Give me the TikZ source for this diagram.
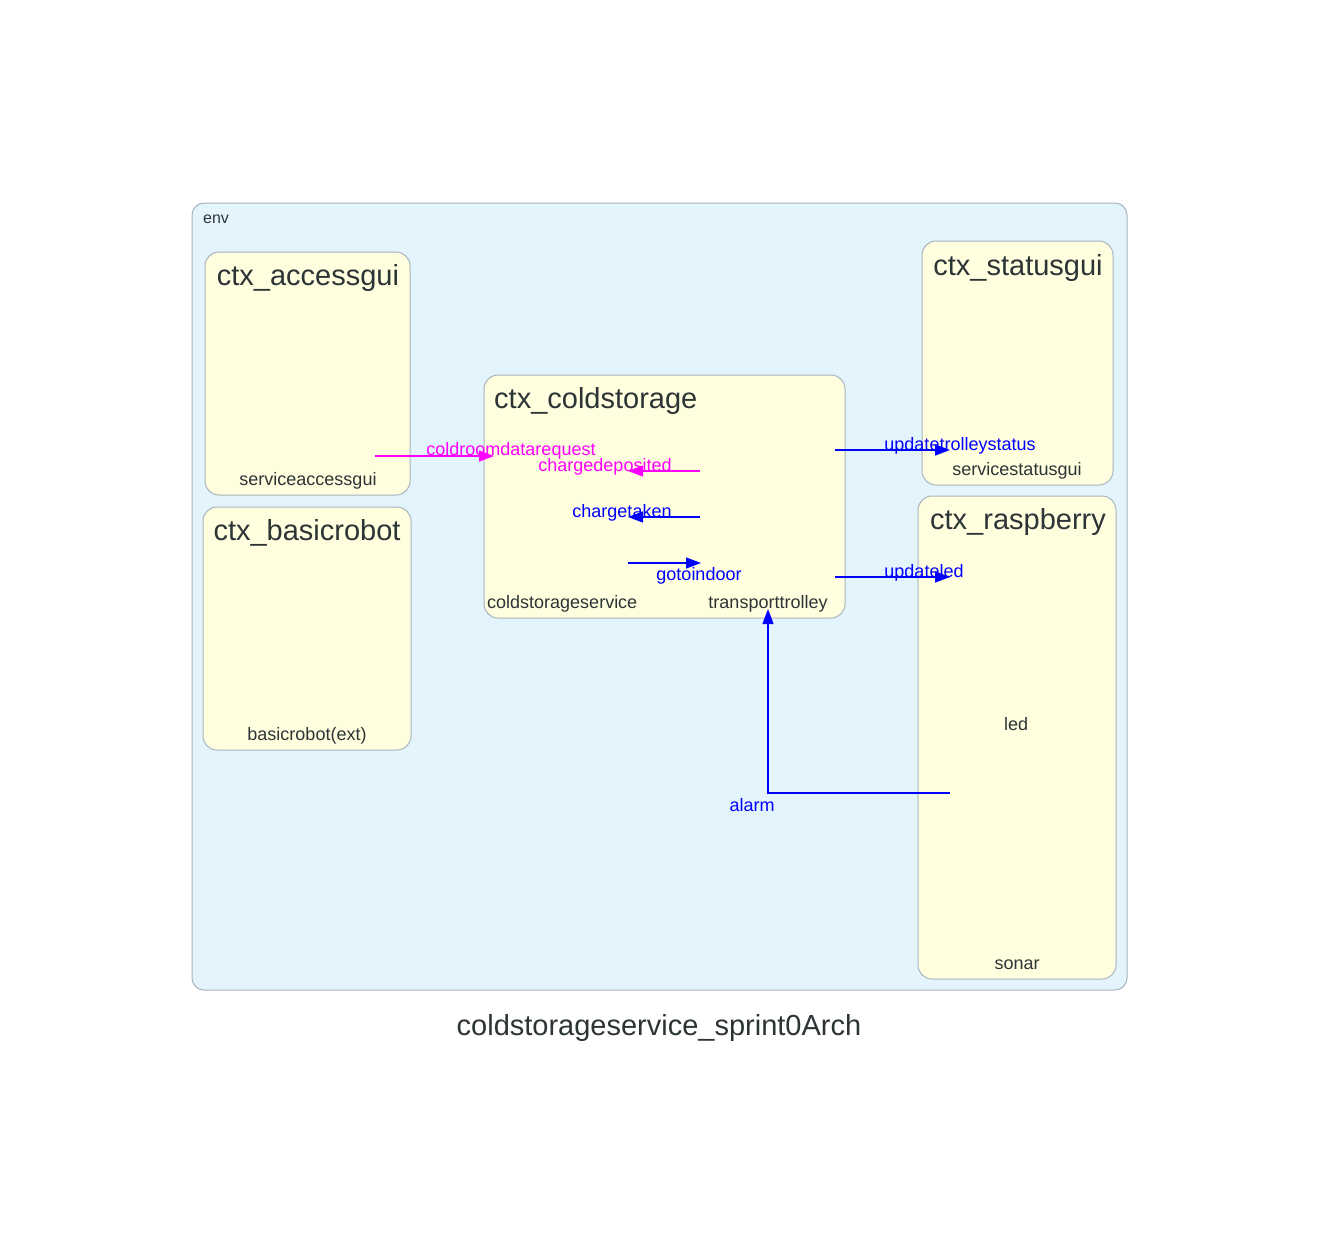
\documentclass[tikz,border=0pt]{standalone}
\usepackage{fontspec}
\setmainfont{Liberation Sans}
\usetikzlibrary{arrows.meta}
\definecolor{txt}{HTML}{2D3436}
\definecolor{envfill}{HTML}{E3F4FC}
\definecolor{ctxfill}{HTML}{FFFEDF}
\definecolor{bord}{HTML}{A9B4BD}
\definecolor{mag}{HTML}{FF00FF}
\definecolor{blu}{HTML}{0000FF}
\begin{document}
\begin{tikzpicture}[x=1pt,y=-1pt,
  envbox/.style={draw=bord, fill=envfill, rounded corners=12pt, line width=1pt},
  ctxbox/.style={draw=bord, fill=ctxfill, rounded corners=14pt, line width=1pt},
  ctxtitle/.style={text=txt, font=\fontsize{29}{32}\selectfont, inner sep=0pt, yshift=-3pt},
  actor/.style={text=txt, font=\fontsize{18}{20}\selectfont, inner sep=0pt, yshift=-2.5pt},
  envlabel/.style={text=txt, font=\fontsize{16}{18}\selectfont, inner sep=0pt, yshift=-2pt},
  msg/.style={font=\fontsize{18}{20}\selectfont, inner sep=0pt, yshift=-2.5pt},
  msgline/.style={line width=1.3pt, -{Triangle[length=15pt,width=11pt]}},
  maintitle/.style={text=txt, font=\fontsize{29}{32}\selectfont, inner sep=0pt, yshift=-3pt}
]
\useasboundingbox (0,0) rectangle (1319,1234);
\fill[white] (0,0) rectangle (1319,1234);

% env cluster
\draw[envbox] (192,203) rectangle (1127,990);
\node[envlabel, anchor=west] (envl) at (203,217) {env};

% contexts
\draw[ctxbox] (205,252) rectangle (410,495);
\node[ctxtitle] (t_access) at (308,275) {ctx\_accessgui};
\node[actor] (serviceaccessgui) at (308,478) {serviceaccessgui};

\draw[ctxbox] (203,507) rectangle (411,750);
\node[ctxtitle] (t_robot) at (307,530) {ctx\_basicrobot};
\node[actor] (basicrobot) at (307,733) {basicrobot(ext)};

\draw[ctxbox] (484,375) rectangle (845,618);
\node[ctxtitle, anchor=west] (t_cold) at (494,398) {ctx\_coldstorage};
\node[actor, anchor=west] (coldstorageservice) at (487,601) {coldstorageservice};
\node[actor] (transporttrolley) at (768,601) {transporttrolley};

\draw[ctxbox] (922,241) rectangle (1113,485);
\node[ctxtitle] (t_status) at (1018,265) {ctx\_statusgui};
\node[actor] (servicestatusgui) at (1017,468) {servicestatusgui};

\draw[ctxbox] (918,496) rectangle (1116,979);
\node[ctxtitle] (t_rasp) at (1018,519) {ctx\_raspberry};
\node[actor] (led) at (1016,722) {led};
\node[actor] (sonar) at (1017,962) {sonar};

% connector end points
\coordinate (a1) at (375,456);  \coordinate (a2) at (494,456);
\coordinate (b1) at (700,471);  \coordinate (b2) at (628,471);
\coordinate (c1) at (700,517);  \coordinate (c2) at (628,517);
\coordinate (d1) at (628,563);  \coordinate (d2) at (701,563);
\coordinate (e1) at (835,450);  \coordinate (e2) at (950,450);
\coordinate (f1) at (835,577);  \coordinate (f2) at (950,577);
\coordinate (g1) at (950,793);  \coordinate (g2) at (768,793);
\coordinate (g3) at (768,609);

\draw[msgline, mag] (a1) -- (a2);
\draw[msgline, mag] (b1) -- (b2);
\draw[msgline, blu] (c1) -- (c2);
\draw[msgline, blu] (d1) -- (d2);
\draw[msgline, blu] (e1) -- (e2);
\draw[msgline, blu] (f1) -- (f2);
\draw[msgline, blu] (g1) -- (g2) -- (g3);

\node[msg, text=mag] (l_a) at (511,448) {coldroomdatarequest};
\node[msg, text=mag] (l_b) at (605,464) {chargedeposited};
\node[msg, text=blu] (l_c) at (622,510) {chargetaken};
\node[msg, text=blu] (l_d) at (699,573) {gotoindoor};
\node[msg, text=blu] (l_e) at (960,443) {updatetrolleystatus};
\node[msg, text=blu] (l_f) at (924,570) {updateled};
\node[msg, text=blu] (l_g) at (752,803) {alarm};

\node[maintitle] (title) at (659,1025) {coldstorageservice\_sprint0Arch};
\end{tikzpicture}
\end{document}
